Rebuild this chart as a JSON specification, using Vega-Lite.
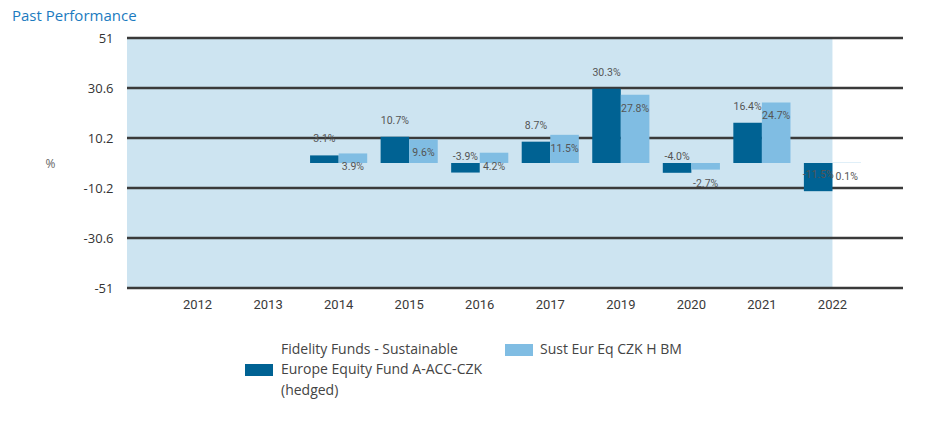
{
  "$schema": "https://vega.github.io/schema/vega-lite/v6.json",
  "width": 776,
  "height": 250,
  "autosize": "none",
  "padding": {"left": 127, "top": 38, "right": 30, "bottom": 136},
  "background": "white",
  "config": {"view": {"stroke": null}},
  "title": {"text": "Past Performance", "anchor": "start", "frame": "group", "orient": "top", "baseline": "alphabetic", "offset": -4, "dx": -115, "font": "Open Sans", "fontSize": 15, "fontWeight": "normal", "color": "#1b7bc0"},
  "datasets": {
    "perf": [
      {"year": "2014", "series": "Fidelity Funds - Sustainable Europe Equity Fund A-ACC-CZK (hedged)", "value": 3.1},
      {"year": "2014", "series": "Sust Eur Eq CZK H BM", "value": 3.9},
      {"year": "2015", "series": "Fidelity Funds - Sustainable Europe Equity Fund A-ACC-CZK (hedged)", "value": 10.7},
      {"year": "2015", "series": "Sust Eur Eq CZK H BM", "value": 9.6},
      {"year": "2016", "series": "Fidelity Funds - Sustainable Europe Equity Fund A-ACC-CZK (hedged)", "value": -3.9},
      {"year": "2016", "series": "Sust Eur Eq CZK H BM", "value": 4.2},
      {"year": "2017", "series": "Fidelity Funds - Sustainable Europe Equity Fund A-ACC-CZK (hedged)", "value": 8.7},
      {"year": "2017", "series": "Sust Eur Eq CZK H BM", "value": 11.5},
      {"year": "2019", "series": "Fidelity Funds - Sustainable Europe Equity Fund A-ACC-CZK (hedged)", "value": 30.3},
      {"year": "2019", "series": "Sust Eur Eq CZK H BM", "value": 27.8},
      {"year": "2020", "series": "Fidelity Funds - Sustainable Europe Equity Fund A-ACC-CZK (hedged)", "value": -4.0},
      {"year": "2020", "series": "Sust Eur Eq CZK H BM", "value": -2.7},
      {"year": "2021", "series": "Fidelity Funds - Sustainable Europe Equity Fund A-ACC-CZK (hedged)", "value": 16.4},
      {"year": "2021", "series": "Sust Eur Eq CZK H BM", "value": 24.7},
      {"year": "2022", "series": "Fidelity Funds - Sustainable Europe Equity Fund A-ACC-CZK (hedged)", "value": -11.5},
      {"year": "2022", "series": "Sust Eur Eq CZK H BM", "value": 0.1}
    ],
    "shade": [{"start": "2012", "end": "2022", "top": 51, "bottom": -51}],
    "grid": [{"v": 51}, {"v": 30.6}, {"v": 10.2}, {"v": -10.2}, {"v": -30.6}, {"v": -51}]
  },
  "encoding": {
    "x": {
      "field": "year", "type": "ordinal",
      "sort": ["2012","2013","2014","2015","2016","2017","2019","2020","2021","2022"],
      "scale": {"domain": ["2012","2013","2014","2015","2016","2017","2019","2020","2021","2022"], "paddingInner": 0.19, "paddingOuter": 0.595},
      "axis": {"title": null, "labelAngle": 0, "ticks": false, "domain": false, "labelPadding": 10, "labelFont": "Roboto", "labelFontSize": 13, "labelColor": "#3a3a3a"}
    }
  },
  "layer": [
    {
      "data": {"name": "shade"},
      "mark": {"type": "rect", "color": "#cde4f1"},
      "encoding": {
        "x": {"field": "start", "type": "ordinal", "bandPosition": -0.7345},
        "x2": {"field": "end", "bandPosition": 0.5},
        "y": {"field": "top", "type": "quantitative"},
        "y2": {"field": "bottom"}
      }
    },
    {
      "data": {"name": "grid"},
      "mark": {"type": "rule", "color": "#3a3a3a", "strokeWidth": 2.6},
      "encoding": {
        "x": null,
        "y": {"field": "v", "type": "quantitative"}
      }
    },
    {
      "data": {"name": "perf"},
      "transform": [{"filter": "datum.series != 'Sust Eur Eq CZK H BM'"}],
      "mark": {"type": "bar"},
      "encoding": {
        "xOffset": {"field": "series", "type": "nominal", "scale": {"domain": ["Fidelity Funds - Sustainable Europe Equity Fund A-ACC-CZK (hedged)", "Sust Eur Eq CZK H BM"]}},
        "y": {"field": "value", "type": "quantitative",
          "scale": {"domain": [-51, 51], "nice": false, "zero": false},
          "axis": {"values": [51, 30.6, 10.2, -10.2, -30.6, -51], "labelExpr": "'' + datum.value", "grid": false, "ticks": false, "domain": false, "labelPadding": 14, "labelFont": "Open Sans", "labelFontSize": 13, "labelColor": "#333333",
            "title": "%", "titleAngle": 0, "titleX": -77, "titleY": 125, "titleAlign": "center", "titleBaseline": "middle", "titleFont": "Open Sans", "titleFontSize": 12, "titleFontWeight": "normal", "titleColor": "#666666"}},
        "y2": {"datum": 0},
        "color": {"field": "series", "type": "nominal",
          "scale": {"domain": ["Fidelity Funds - Sustainable Europe Equity Fund A-ACC-CZK (hedged)"], "range": ["#006293"]},
          "legend": {
            "title": null, "orient": "none", "legendX": 118, "legendY": 318, "direction": "vertical",
            "symbolType": "M-1,-0.43H1V0.43H-1Z", "symbolSize": 784, "symbolStrokeWidth": 0,
            "labelFont": "Open Sans", "labelFontSize": 14, "labelColor": "#444444", "labelOffset": 8, "labelLimit": 400,
            "labelExpr": "['Fidelity Funds - Sustainable', 'Europe Equity Fund A-ACC-CZK', '(hedged)']",
            "encode": {"labels": {"update": {"lineHeight": {"value": 20.5}, "dy": {"value": -20.5}}}}
          }
        }
      }
    },
    {
      "data": {"name": "perf"},
      "transform": [{"filter": "datum.series == 'Sust Eur Eq CZK H BM'"}],
      "mark": {"type": "bar"},
      "encoding": {
        "xOffset": {"field": "series", "type": "nominal"},
        "y": {"field": "value", "type": "quantitative"},
        "y2": {"datum": 0},
        "fill": {"field": "series", "type": "nominal",
          "scale": {"domain": ["Sust Eur Eq CZK H BM"], "range": ["#80bde3"]},
          "legend": {
            "title": null, "orient": "none", "legendX": 378, "legendY": 298, "direction": "vertical",
            "symbolType": "M-1,-0.43H1V0.43H-1Z", "symbolSize": 784, "symbolStrokeWidth": 0,
            "labelFont": "Open Sans", "labelFontSize": 14, "labelColor": "#444444", "labelOffset": 7, "labelLimit": 400
          }
        }
      }
    },
    {
      "data": {"name": "perf"},
      "transform": [
        {"filter": "datum.series != 'Sust Eur Eq CZK H BM'"},
        {"calculate": "replace(format(datum.value, '.1f'), '\u2212', '-') + '%'", "as": "label"}
      ],
      "mark": {"type": "text", "dy": -16, "font": "Roboto", "fontSize": 10.5, "color": "#555555"},
      "encoding": {
        "xOffset": {"field": "series", "type": "nominal"},
        "y": {"field": "value", "type": "quantitative"},
        "text": {"field": "label", "type": "nominal"}
      }
    },
    {
      "data": {"name": "perf"},
      "transform": [
        {"filter": "datum.series == 'Sust Eur Eq CZK H BM'"},
        {"calculate": "replace(format(datum.value, '.1f'), '\u2212', '-') + '%'", "as": "label"}
      ],
      "mark": {"type": "text", "dy": 14, "font": "Roboto", "fontSize": 10.5, "color": "#555555"},
      "encoding": {
        "xOffset": {"field": "series", "type": "nominal"},
        "y": {"field": "value", "type": "quantitative"},
        "text": {"field": "label", "type": "nominal"}
      }
    }
  ]
}
